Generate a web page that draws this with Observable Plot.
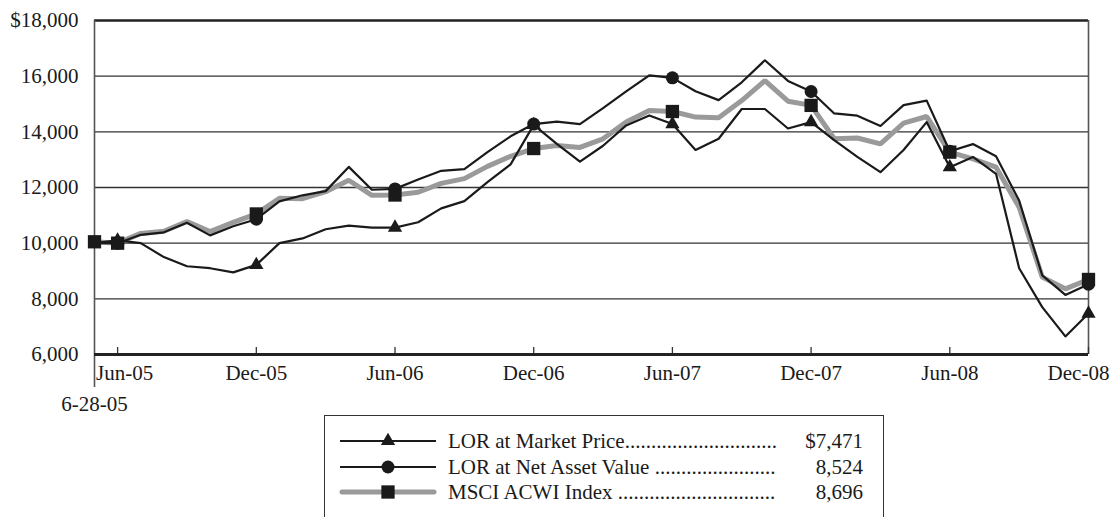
<!DOCTYPE html>
<html><head><meta charset="utf-8">
<script src="https://cdn.jsdelivr.net/npm/d3@7"></script>
<script src="https://cdn.jsdelivr.net/npm/@observablehq/plot@0.6"></script>
<style>
body{margin:0;background:#fff;font-family:"Liberation Serif","Times New Roman",serif;color:#1a1a1a;}
#wrap{position:relative;width:1113px;height:517px;overflow:hidden;}
#legend{position:absolute;left:324px;top:415px;width:560px;height:130px;border:1.5px solid #333;box-sizing:border-box;}
.row{position:absolute;left:0;height:26px;width:100%;}
.row svg{position:absolute;left:13px;top:0;}
.lab{position:absolute;left:123px;top:0;white-space:nowrap;font-size:21px;line-height:26px;}
.val{position:absolute;right:20px;top:0;font-size:21px;line-height:26px;}
</style></head><body>
<div id="wrap"><div id="chart"></div><div id="legend"></div></div>
<script>
const periods = ["6-28-05",
  "Jun-05","Jul-05","Aug-05","Sep-05","Oct-05","Nov-05","Dec-05",
  "Jan-06","Feb-06","Mar-06","Apr-06","May-06","Jun-06","Jul-06","Aug-06","Sep-06","Oct-06","Nov-06","Dec-06",
  "Jan-07","Feb-07","Mar-07","Apr-07","May-07","Jun-07","Jul-07","Aug-07","Sep-07","Oct-07","Nov-07","Dec-07",
  "Jan-08","Feb-08","Mar-08","Apr-08","May-08","Jun-08","Jul-08","Aug-08","Sep-08","Oct-08","Nov-08","Dec-08"];

const marketPrice = [10000,10100,10000,9500,9170,9100,8950,9220,
  10000,10170,10500,10630,10560,10560,10750,11250,11510,12190,12830,14250,
  13570,12930,13500,14230,14590,14280,13350,13750,14820,14820,14120,14350,
  13700,13100,12550,13350,14350,12730,13100,12490,9100,7700,6650,7471];

const netAssetValue = [10000,10000,10300,10390,10735,10280,10610,10860,
  11500,11720,11870,12740,11920,11950,12290,12600,12660,13270,13840,14280,
  14370,14280,14850,15450,16030,15940,15460,15140,15780,16570,15830,15450,
  14660,14580,14210,14960,15120,13300,13560,13120,11530,8840,8140,8524];

const msciAcwi = [10050,10000,10350,10430,10780,10420,10750,11050,
  11610,11600,11850,12260,11720,11730,11830,12150,12320,12760,13120,13400,
  13510,13440,13750,14350,14770,14730,14530,14510,15125,15840,15100,14950,
  13750,13780,13570,14310,14550,13270,13030,12730,11290,8780,8360,8696];

const yTicks = [6000,8000,10000,12000,14000,16000,18000];
const xTickLabels = ["Jun-05","Dec-05","Jun-06","Dec-06","Jun-07","Dec-07","Jun-08","Dec-08"];
const markerLabels = ["Jun-05","Dec-05","Jun-06","Dec-06","Jun-07","Dec-07","Jun-08","Dec-08"];
const squareLabels = ["6-28-05","Jun-05","Dec-05","Jun-06","Dec-06","Jun-07","Dec-07","Jun-08","Dec-08"];
const inceptionLabel = "6-28-05";

const seriesNames = ["LOR at Market Price","LOR at Net Asset Value ","MSCI ACWI Index "];
const legendValues = ["$7,471","8,524","8,696"];

const toRows = arr => arr.map((v, i) => ({i, v}));
const mkt = toRows(marketPrice), nav = toRows(netAssetValue), msci = toRows(msciAcwi);
const idx = lab => periods.indexOf(lab);
const tickIdx = xTickLabels.map(idx);
const at = (rows, labs) => labs.map(l => rows[idx(l)]);

const ink = "#1a1a1a", grayC = "#9a9a9a";
const yMin = d3.min(yTicks), yMax = d3.max(yTicks);
const lastI = periods.length - 1;

const chart = Plot.plot({
  width: 1113, height: 416,
  marginLeft: 94, marginRight: 25, marginTop: 20, marginBottom: 62,
  style: {fontFamily: "Liberation Serif, Times New Roman, serif", fontSize: "21px", color: ink, background: "#fff", overflow: "visible"},
  x: {type: "linear", domain: [0, lastI], axis: null},
  y: {domain: [yMin, yMax], axis: null},
  marks: [
    Plot.ruleY(yTicks.filter(t => t > yMin && t < yMax), {stroke: "#333", strokeWidth: 1.3}),
    Plot.axisY(yTicks, {tickSize: 0, tickPadding: 16, fontSize: 21, label: null,
      tickFormat: d => d === yMax ? "$" + d3.format(",")(d) : d3.format(",")(d)}),
    Plot.line(msci, {x: "i", y: "v", stroke: grayC, strokeWidth: 5, strokeLinejoin: "miter"}),
    Plot.line(mkt, {x: "i", y: "v", stroke: ink, strokeWidth: 2.2}),
    Plot.line(nav, {x: "i", y: "v", stroke: ink, strokeWidth: 2.2}),
    Plot.ruleY([yMax], {stroke: "#222", strokeWidth: 2.6}),
    Plot.ruleX([0], {x: d => d, y1: () => yMax, y2: () => yMin, insetBottom: -33, stroke: "#555", strokeWidth: 1.6}),
    Plot.ruleX([lastI], {x: d => d, y1: () => yMax, y2: () => yMin, stroke: "#555", strokeWidth: 1.6}),
    Plot.ruleX(tickIdx, {x: d => d, y1: () => yMin, y2: () => yMin, insetBottom: 7, stroke: "#333", strokeWidth: 1.3}),
    Plot.ruleY([yMin], {stroke: "#222", strokeWidth: 3}),
    Plot.dot(at(msci, squareLabels), {x: "i", y: "v", symbol: "square", r: 7.5, fill: ink}),
    Plot.dot(at(nav, markerLabels), {x: "i", y: "v", symbol: "circle", r: 6.5, fill: ink}),
    Plot.dot(at(mkt, markerLabels), {x: "i", y: "v", symbol: "triangle", r: 5.3, fill: ink}),
    Plot.text(tickIdx.slice(1, -1), {x: d => d, y: () => yMin, text: d => periods[d], dy: 19, fontSize: 21, fill: ink}),
    Plot.text(tickIdx.slice(0, 1), {x: d => d, y: () => yMin, text: d => periods[d], dy: 19, dx: 7, fontSize: 21, fill: ink}),
    Plot.text(tickIdx.slice(-1), {x: d => d, y: () => yMin, text: d => periods[d], dy: 19, dx: -10, fontSize: 21, fill: ink}),
    Plot.text([idx(inceptionLabel)], {x: d => d, y: () => yMin, text: d => periods[d], dy: 50, fontSize: 21, fill: ink})
  ]
});
document.getElementById("chart").appendChild(chart);

// legend with dot leaders fitted to the available width
const ctx = document.createElement("canvas").getContext("2d");
ctx.font = '21px "Liberation Serif"';
const leaderWidth = 333;
const withLeaders = s => { let t = s; while (ctx.measureText(t + ".").width <= leaderWidth) t += "."; return t; };

const legend = d3.select("#legend");
const rowTops = [12, 38, 63];
const sym = [d3.symbolTriangle, d3.symbolCircle, d3.symbolSquare];
const symSize = [Math.PI*5.3*5.3, Math.PI*6.5*6.5, Math.PI*7.5*7.5];
seriesNames.forEach((name, k) => {
  const row = legend.append("div").attr("class", "row").style("top", rowTops[k] + "px");
  const s = row.append("svg").attr("width", 102).attr("height", 26);
  s.append("line").attr("x1", k === 2 ? 4 : 2).attr("x2", k === 2 ? 96 : 98).attr("y1", 13).attr("y2", 13)
    .attr("stroke", k === 2 ? grayC : ink).attr("stroke-width", k === 2 ? 5 : 2.2)
    .attr("stroke-linecap", k === 2 ? "round" : "butt");
  s.append("path").attr("d", d3.symbol(sym[k], symSize[k])()).attr("transform", "translate(50,13)").attr("fill", ink);
  row.append("div").attr("class", "lab").text(withLeaders(name));
  row.append("div").attr("class", "val").text(legendValues[k]);
});
</script></body></html>
